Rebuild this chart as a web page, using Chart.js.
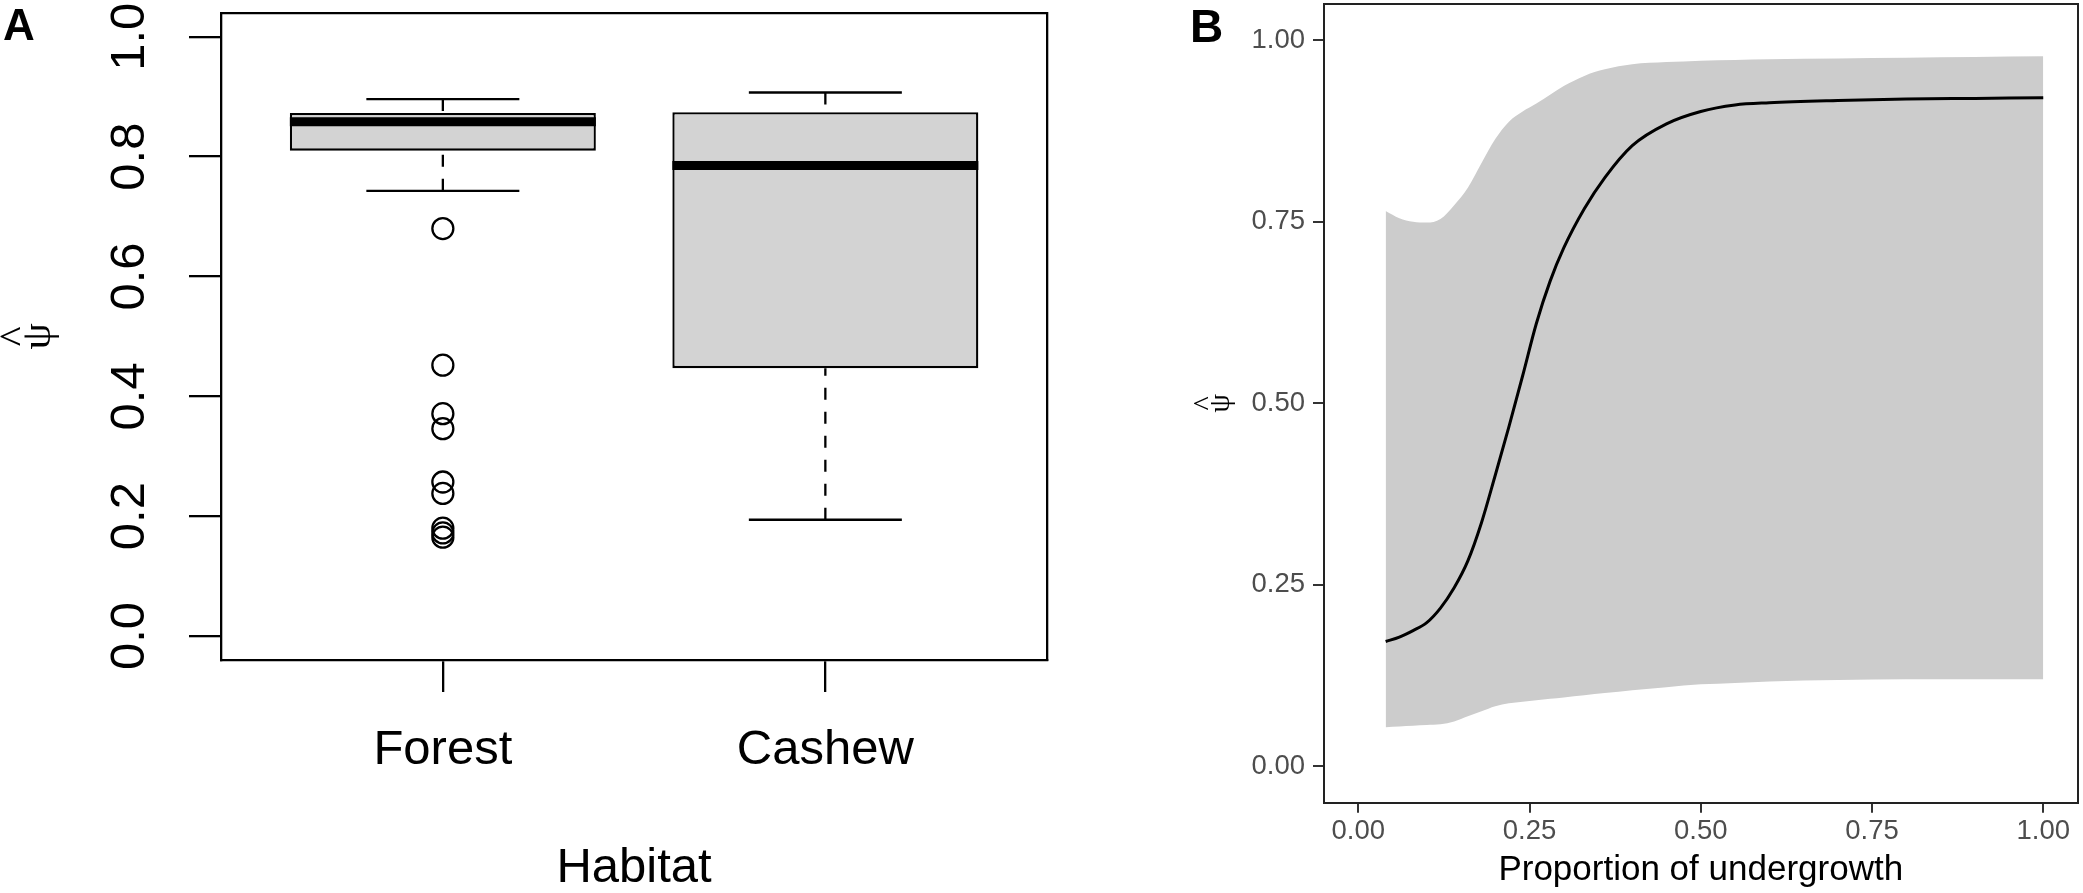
<!DOCTYPE html>
<html>
<head>
<meta charset="utf-8">
<script src="https://cdn.jsdelivr.net/npm/chart.js@4.4.1/dist/chart.umd.min.js"></script>
<style>
  html, body { margin: 0; padding: 0; background: #fff; }
  body { width: 2083px; height: 893px; position: relative; overflow: hidden; font-family: "Liberation Sans", Arial, sans-serif; }
  canvas { position: absolute; top: 0; }
  #boxCanvas { left: 0; }
  #curveCanvas { left: 1060px; }
  .panel-tag { position: absolute; font-weight: bold; line-height: 1; color: #000; }
</style>
</head>
<body>
<canvas id="boxCanvas" width="1060" height="893"></canvas>
<canvas id="curveCanvas" width="1023" height="893"></canvas>
<div class="panel-tag" style="left:3px; top:3px; font-size:44px;">A</div>
<div class="panel-tag" style="left:1190px; top:3px; font-size:46px;">B</div>
<script>
// panel A: boxplot of occupancy by habitat
const habitats = ['Forest', 'Cashew'];
// lower whisker, Q1, median, Q3, upper whisker
const forestStats = [0.743, 0.810, 0.858, 0.873, 0.896];
const cashewStats = [0.194, 0.447, 0.785, 0.874, 0.907];
const forestOutliers = [0.680, 0.452, 0.371, 0.346, 0.257, 0.238, 0.180, 0.172, 0.165];
const cashewOutliers = [];
const boxTicks = [0, 0.2, 0.4, 0.6, 0.8, 1.0];
const boxTickLabels = ['0.0', '0.2', '0.4', '0.6', '0.8', '1.0'];

// panel B: predicted occupancy against undergrowth
const undergrowth = [0.04, 0.06, 0.08, 0.10, 0.12, 0.14, 0.16, 0.18, 0.20, 0.22, 0.24, 0.26, 0.28, 0.30,
                     0.33, 0.36, 0.40, 0.45, 0.50, 0.55, 0.60, 0.70, 0.80, 0.90, 1.00];
const psiFit = [0.172, 0.178, 0.187, 0.198, 0.218, 0.246, 0.283, 0.336, 0.401, 0.468, 0.538, 0.610, 0.668, 0.714,
                0.768, 0.811, 0.855, 0.885, 0.902, 0.911, 0.914, 0.917, 0.919, 0.920, 0.921];
const psiUpper = [0.765, 0.755, 0.750, 0.749, 0.754, 0.773, 0.797, 0.831, 0.864, 0.888, 0.902, 0.913, 0.925, 0.937,
                  0.951, 0.960, 0.967, 0.970, 0.972, 0.973, 0.974, 0.975, 0.976, 0.977, 0.978];
const psiLower = [0.054, 0.055, 0.056, 0.057, 0.058, 0.062, 0.069, 0.076, 0.083, 0.087, 0.089, 0.091, 0.093, 0.095,
                  0.098, 0.101, 0.105, 0.109, 0.113, 0.115, 0.117, 0.119, 0.120, 0.120, 0.120];
const curveTicks = [0, 0.25, 0.5, 0.75, 1];
const curveTickLabels = ['0.00', '0.25', '0.50', '0.75', '1.00'];

const sans = "'Liberation Sans', Arial, sans-serif";
const serif = "'Liberation Serif', 'DejaVu Serif', serif";
// hat and psi as two stacked lines, so the rotated title reads like R's hat(psi)
const psiHat = ['^', '\u03C8'];

Chart.defaults.font.family = sans;
Chart.defaults.animation = false;

// frame-only axis, used for the top and right sides of each panel
function frameAxis(position, color, width) {
  return {
    type: 'linear', position: position, min: 0, max: 1,
    ticks: { display: false },
    grid: { display: false, drawTicks: false },
    border: { display: true, color: color, width: width },
    afterFit: s => {
      if (s.isHorizontal()) s.height = 0; else s.width = 0;
      s.paddingTop = s.paddingBottom = s.paddingLeft = s.paddingRight = 0;
    }
  };
}

// ---------- panel A ----------
const groups = [forestStats, cashewStats];
const outlierSets = [forestOutliers, cashewOutliers];
const boxHalf = 0.4;
const stapleHalf = 0.2;

const boxDatasets = [{
  type: 'bar',
  data: groups.map((s, i) => ({ x: i + 1, y: [s[1], s[3]] })),
  backgroundColor: '#d3d3d3',
  borderColor: '#000',
  borderWidth: 2.3,
  borderSkipped: false,
  barPercentage: 0.8,
  categoryPercentage: 1,
  order: 5
}];

function segment(points, extra) {
  return Object.assign({
    type: 'line', data: points, borderColor: '#000', borderWidth: 2.3,
    pointRadius: 0, fill: false, order: 2
  }, extra || {});
}

groups.forEach((s, i) => {
  const at = i + 1;
  boxDatasets.push(segment([{ x: at, y: s[0] }, { x: at, y: s[1] }], { borderDash: [12, 12] }));
  boxDatasets.push(segment([{ x: at, y: s[4] }, { x: at, y: s[3] }], { borderDash: [12, 12] }));
  boxDatasets.push(segment([{ x: at - stapleHalf, y: s[0] }, { x: at + stapleHalf, y: s[0] }]));
  boxDatasets.push(segment([{ x: at - stapleHalf, y: s[4] }, { x: at + stapleHalf, y: s[4] }]));
  boxDatasets.push(segment([{ x: at - boxHalf, y: s[2] }, { x: at + boxHalf, y: s[2] }], { borderWidth: 9, order: 0 }));
});

const outlierPoints = [];
outlierSets.forEach((vals, i) => vals.forEach(v => outlierPoints.push({ x: i + 1, y: v })));
boxDatasets.push({
  type: 'scatter',
  data: outlierPoints,
  showLine: false,
  pointRadius: 10.5,
  pointBorderWidth: 2.3,
  pointBackgroundColor: 'rgba(0,0,0,0)',
  pointBorderColor: '#000',
  order: 1
});

new Chart(document.getElementById('boxCanvas'), {
  type: 'bar',
  data: { datasets: boxDatasets },
  options: {
    responsive: false,
    events: [],
    layout: { padding: { left: 0, top: 12, right: 9, bottom: 0 } },
    plugins: { legend: { display: false }, tooltip: { enabled: false } },
    scales: {
      x: {
        type: 'linear', position: 'bottom', min: 0.42, max: 2.58, bounds: 'data', offset: false,
        afterBuildTicks: s => { s.ticks = habitats.map((h, i) => ({ value: i + 1 })); },
        afterFit: s => { s.height = 233; s.paddingLeft = s.paddingRight = 0; },
        ticks: {
          callback: (v, i) => habitats[i],
          font: { family: sans, size: 49 }, color: '#000', padding: 29,
          maxRotation: 0, autoSkip: false
        },
        grid: { drawOnChartArea: false, drawTicks: true, tickLength: 32, color: '#000', lineWidth: 2.3, offset: false },
        border: { display: true, color: '#000', width: 2.3 },
        title: {
          display: true, text: 'Habitat', color: '#000',
          font: { family: sans, size: 49, lineHeight: 1 }, padding: { top: 0, bottom: 0 }
        }
      },
      y: {
        type: 'linear', position: 'left', min: -0.04, max: 1.04, bounds: 'data',
        afterBuildTicks: s => { s.ticks = boxTicks.map(v => ({ value: v })); },
        afterFit: s => { s.width = 221; s.paddingTop = s.paddingBottom = 0; },
        ticks: {
          callback: (v, i) => boxTickLabels[i],
          font: { family: sans, size: 49 }, color: '#000', padding: 24,
          minRotation: 90, maxRotation: 90, crossAlign: 'center'
        },
        grid: { drawOnChartArea: false, drawTicks: true, tickLength: 32, color: '#000', lineWidth: 2.3 },
        border: { display: true, color: '#000', width: 2.3 },
        title: {
          display: true, text: psiHat, color: '#000',
          font: { family: serif, size: 42, lineHeight: 0.536 }, padding: { top: 5.5, bottom: 0 }
        }
      },
      x2: frameAxis('top', '#000', 2.3),
      y2: frameAxis('right', '#000', 2.3)
    }
  }
});

// ---------- panel B ----------
const toPoints = vals => undergrowth.map((u, i) => ({ x: u, y: vals[i] }));

new Chart(document.getElementById('curveCanvas'), {
  type: 'line',
  data: {
    datasets: [
      {
        label: 'fit', data: toPoints(psiFit), borderColor: '#000', borderWidth: 3,
        pointRadius: 0, fill: false, cubicInterpolationMode: 'monotone', order: 0
      },
      {
        label: 'upper', data: toPoints(psiUpper), borderColor: 'rgba(0,0,0,0)', borderWidth: 0,
        backgroundColor: '#cccccc', pointRadius: 0, fill: '+1', cubicInterpolationMode: 'monotone', order: 1
      },
      {
        label: 'lower', data: toPoints(psiLower), borderColor: 'rgba(0,0,0,0)', borderWidth: 0,
        pointRadius: 0, fill: false, cubicInterpolationMode: 'monotone', order: 2
      }
    ]
  },
  options: {
    responsive: false,
    events: [],
    layout: { padding: { left: 0, top: 4, right: 5.5, bottom: 0 } },
    plugins: { legend: { display: false }, tooltip: { enabled: false } },
    scales: {
      x: {
        type: 'linear', position: 'bottom', min: -0.05, max: 1.05, bounds: 'data',
        afterBuildTicks: s => { s.ticks = curveTicks.map(v => ({ value: v })); },
        afterFit: s => { s.height = 90.3; s.paddingLeft = s.paddingRight = 0; },
        ticks: {
          callback: (v, i) => curveTickLabels[i],
          font: { family: sans, size: 27.5 }, color: '#4d4d4d', padding: 2,
          maxRotation: 0, autoSkip: false
        },
        grid: { drawOnChartArea: false, drawTicks: true, tickLength: 10, color: '#333', lineWidth: 2 },
        border: { display: true, color: '#222', width: 2 },
        title: {
          display: true, text: 'Proportion of undergrowth', color: '#000',
          font: { family: sans, size: 35, lineHeight: 1 }, padding: { top: 0, bottom: 5.5 }
        }
      },
      y: {
        type: 'linear', position: 'left', min: -0.05, max: 1.05, bounds: 'data',
        afterBuildTicks: s => { s.ticks = curveTicks.map(v => ({ value: v })); },
        afterFit: s => { s.width = 264; s.paddingTop = s.paddingBottom = 0; },
        ticks: {
          callback: (v, i) => curveTickLabels[i],
          font: { family: sans, size: 27.5 }, color: '#4d4d4d', padding: 8
        },
        grid: { drawOnChartArea: false, drawTicks: true, tickLength: 11, color: '#333', lineWidth: 2 },
        border: { display: true, color: '#222', width: 2 },
        title: {
          display: true, text: psiHat, color: '#000',
          font: { family: serif, size: 30, lineHeight: 0.517 }, padding: { top: 138, bottom: 0 }
        }
      },
      x2: frameAxis('top', '#222', 2),
      y2: frameAxis('right', '#222', 2)
    }
  }
});
</script>
</body>
</html>
